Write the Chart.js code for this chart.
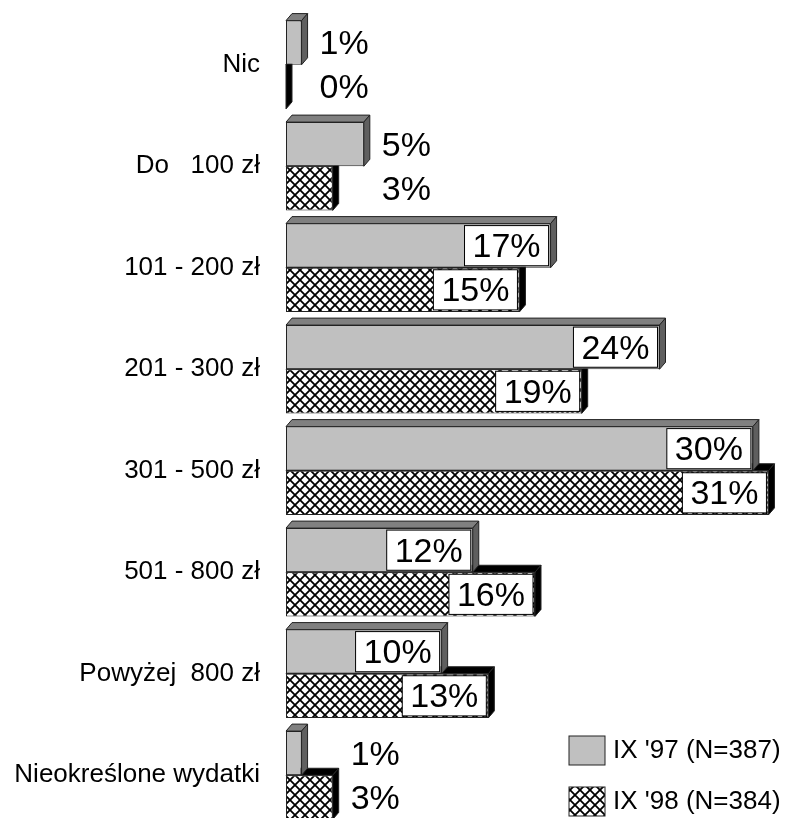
<!DOCTYPE html>
<html>
<head>
<meta charset="utf-8">
<script src="https://cdn.jsdelivr.net/npm/chart.js@4"></script>
<style>
  html, body { margin: 0; padding: 0; overflow: hidden; background: #fff; }
  #box { width: 787px; height: 830px; }
</style>
</head>
<body>
<div id="box"><canvas id="wydatki"></canvas></div>
<script>
const kategorie = ['Nic', 'Do   100 zł', '101 - 200 zł', '201 - 300 zł', '301 - 500 zł', '501 - 800 zł', 'Powyżej  800 zł', 'Nieokreślone wydatki'];
const seria97 = [1, 5, 17, 24, 30, 12, 10, 1];
const seria98 = [0, 3, 15, 19, 31, 16, 13, 3];
const nazwySerii = ["IX '97 (N=387)", "IX '98 (N=384)"];

const FONT = "'Liberation Sans', Arial, sans-serif";
const DX = 6, DY = 7;

// kratka dla drugiej serii
function kratka() {
  const c = document.createElement('canvas');
  c.width = 10; c.height = 10;
  const g = c.getContext('2d');
  g.fillStyle = '#fff';
  g.fillRect(0, 0, 10, 10);
  g.strokeStyle = '#000';
  g.lineWidth = 1.8;
  g.beginPath();
  g.moveTo(-1, -1); g.lineTo(11, 11);
  g.moveTo(11, -1); g.lineTo(-1, 11);
  g.stroke();
  return g.createPattern(c, 'repeat');
}
const wzor = kratka();

const sciany = [
  { gora: '#808080', bok: '#5f5f5f' },
  { gora: '#000000', bok: '#000000' }
];

const glebia = {
  id: 'glebia',
  beforeDatasetsDraw(chart) {
    const ctx = chart.ctx;
    ctx.save();
    ctx.strokeStyle = '#222';
    ctx.lineWidth = 1;
    [1, 0].forEach(di => {
      chart.getDatasetMeta(di).data.forEach(bar => {
        const p = bar.getProps(['x', 'y', 'base', 'height'], true);
        const top = p.y - p.height / 2, bottom = p.y + p.height / 2;
        ctx.fillStyle = sciany[di].gora;
        ctx.beginPath();
        ctx.moveTo(p.base, top);
        ctx.lineTo(p.base + DX, top - DY);
        ctx.lineTo(p.x + DX, top - DY);
        ctx.lineTo(p.x, top);
        ctx.closePath();
        ctx.fill(); ctx.stroke();
        ctx.fillStyle = sciany[di].bok;
        ctx.beginPath();
        ctx.moveTo(p.x, top);
        ctx.lineTo(p.x + DX, top - DY);
        ctx.lineTo(p.x + DX, bottom - DY);
        ctx.lineTo(p.x, bottom);
        ctx.closePath();
        ctx.fill(); ctx.stroke();
      });
    });
    ctx.restore();
  }
};

const etykiety = {
  id: 'etykiety',
  afterDatasetsDraw(chart) {
    const ctx = chart.ctx;
    const xs = chart.scales.x;
    ctx.save();
    ctx.font = '34px ' + FONT;
    ctx.textBaseline = 'middle';
    const bw = ctx.measureText('00%').width + 16;
    kategorie.forEach((k, i) => {
      const maks = Math.max(seria97[i], seria98[i]);
      [seria97, seria98].forEach((seria, di) => {
        const p = chart.getDatasetMeta(di).data[i].getProps(['x', 'y', 'base', 'height'], true);
        const txt = seria[i] + '%';
        if (p.x - p.base >= bw + 4) {
          const bx = p.x - 2 - bw, by = p.y - p.height / 2 + 2;
          ctx.fillStyle = '#fff';
          ctx.fillRect(bx, by, bw, p.height - 4);
          ctx.strokeStyle = '#000';
          ctx.lineWidth = 1;
          ctx.strokeRect(bx, by, bw, p.height - 4);
          ctx.fillStyle = '#000';
          ctx.textAlign = 'center';
          ctx.fillText(txt, bx + bw / 2, p.y + 2);
        } else {
          ctx.fillStyle = '#000';
          ctx.textAlign = 'left';
          ctx.fillText(txt, xs.getPixelForValue(maks) + DX + 12, p.y + 2);
        }
      });
    });
    ctx.restore();
  },
  afterDraw(chart) {
    const ctx = chart.ctx;
    ctx.save();
    ctx.font = '26px ' + FONT;
    ctx.textBaseline = 'middle';
    ctx.textAlign = 'left';
    chart.data.datasets.forEach((ds, i) => {
      const y = 736 + i * 51;
      ctx.fillStyle = ds.backgroundColor;
      ctx.fillRect(569, y, 36, 29);
      ctx.strokeStyle = '#222';
      ctx.lineWidth = 1;
      ctx.strokeRect(569, y, 36, 29);
      ctx.fillStyle = '#000';
      ctx.fillText(ds.label, 613, y + 15);
    });
    ctx.restore();
  }
};

new Chart(document.getElementById('wydatki'), {
  type: 'bar',
  data: {
    labels: kategorie,
    datasets: [{
      label: nazwySerii[0],
      data: seria97,
      backgroundColor: '#c0c0c0',
      borderColor: '#222',
      borderWidth: 1,
      borderSkipped: false
    }, {
      label: nazwySerii[1],
      data: seria98,
      backgroundColor: wzor,
      borderColor: '#222',
      borderWidth: 1,
      borderSkipped: false
    }]
  },
  options: {
    indexAxis: 'y',
    responsive: true,
    maintainAspectRatio: false,
    animation: false,
    layout: { padding: { top: 14, bottom: 4, left: 0, right: 3 } },
    datasets: { bar: { categoryPercentage: 0.87, barPercentage: 1.0 } },
    plugins: {
      legend: { display: false },
      tooltip: { enabled: false }
    },
    scales: {
      x: { display: false, min: 0, max: 32 },
      y: {
        grid: { display: false, drawTicks: false },
        border: { display: false },
        ticks: { color: '#000', padding: 26, font: { family: FONT, size: 26 } },
        afterFit(scale) {
          scale.width = 286;
          scale.paddingTop = 0;
          scale.paddingBottom = 0;
        }
      }
    }
  },
  plugins: [glebia, etykiety]
});
</script>
</body>
</html>
